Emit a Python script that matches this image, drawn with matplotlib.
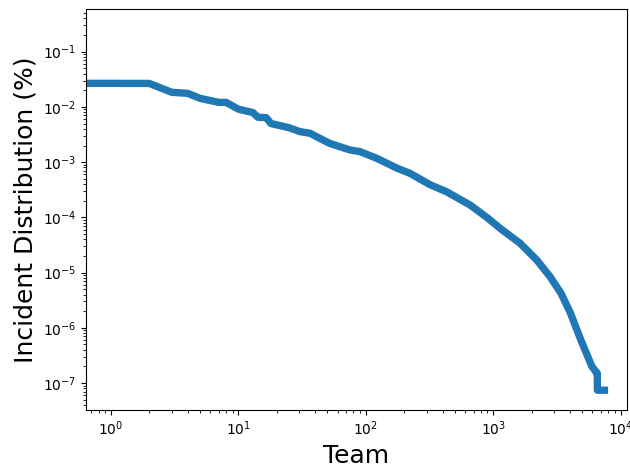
import matplotlib
matplotlib.use("Agg")
import matplotlib.pyplot as plt

# Team rank (0 is the first team, clipped on the log axis)
team = [0, 1, 2, 3, 4, 5, 7, 8, 10, 13, 14.2, 16.5, 18, 25, 30.5, 36.5, 49, 52,
        75, 90, 122, 175, 222, 319, 431, 658, 889, 1130, 1622, 2193, 2790, 3400,
        4010, 4800, 5420, 5930, 6150, 6490, 6550, 6560, 7450]
# Incident distribution (%)
dist = [0.0267, 0.0267, 0.0266, 0.0184, 0.0176, 0.0143, 0.0121, 0.0121, 0.0091,
        0.0079, 0.0065, 0.0064, 0.0050, 0.0042, 0.00356, 0.00333, 0.00234,
        0.00219, 0.00166, 0.00155, 0.00117, 0.00078, 0.000626, 0.00039,
        0.00029, 0.000167, 0.000100, 6.34e-5, 3.39e-5, 1.69e-5, 8.4e-6, 4.2e-6,
        1.9e-6, 6.5e-7, 3.3e-7, 2.0e-7, 1.8e-7, 1.5e-7, 1.5e-7, 7.4e-8, 7.4e-8]

fig = plt.figure(figsize=(6.3, 4.68), dpi=100)
ax = fig.add_axes([86 / 630, 1 - 410 / 468, (627 - 86) / 630, (410 - 9.3) / 468])
ax.plot(team, dist, color="#1f77b4", lw=5.3)
ax.set_xscale("log", nonpositive="clip")
ax.set_yscale("log")
ax.set_xlim(0.637, 11200)
ax.set_ylim(3.24e-8, 0.586)
ax.set_xlabel("Team", fontsize=18)
ax.set_ylabel("Incident Distribution (%)", fontsize=18)
fig.savefig("out.png", dpi=100)
